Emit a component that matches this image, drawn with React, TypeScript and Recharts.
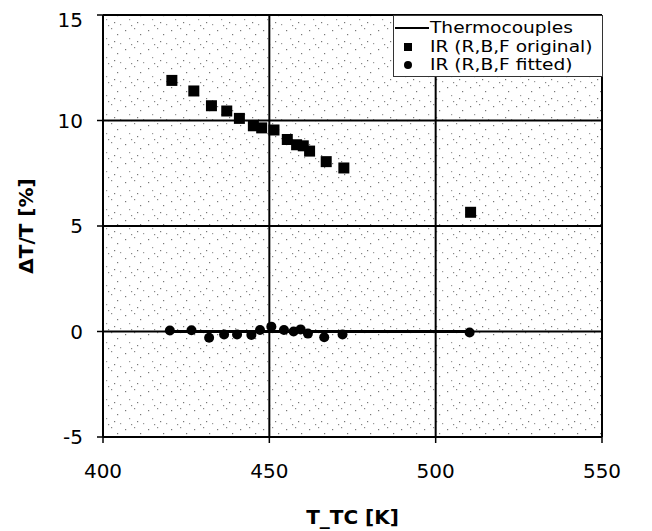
import React from "react";
import {
  ComposedChart,
  XAxis,
  YAxis,
  CartesianGrid,
  Scatter,
  Line,
} from "recharts";

const xTicks = [400, 450, 500, 550];
const yTicks = [-5, 0, 5, 10, 15];

const tcX = [420, 510];
const tcY = [0, 0];

const irOrigX = [420.7, 427.3, 432.6, 437.2, 441.0, 445.2, 447.7, 451.4, 455.4, 458.2, 460.2, 462.1, 467.1, 472.4, 510.5];
const irOrigY = [11.9, 11.4, 10.7, 10.45, 10.1, 9.75, 9.65, 9.55, 9.1, 8.85, 8.8, 8.55, 8.05, 7.75, 5.65];

const irFitX = [420.1, 426.6, 431.9, 436.4, 440.3, 444.6, 447.2, 450.6, 454.4, 457.3, 459.4, 461.6, 466.5, 472.0, 510.2];
const irFitY = [0.05, 0.06, -0.3, -0.14, -0.14, -0.16, 0.07, 0.23, 0.07, 0.0, 0.1, -0.1, -0.27, -0.14, -0.05];

const seriesNames = ["Thermocouples", "IR (R,B,F original)", "IR (R,B,F fitted)"];

const tcData = tcX.map((x, i) => ({ x, y: tcY[i] }));
const origData = irOrigX.map((x, i) => ({ x, y: irOrigY[i] }));
const fitData = irFitX.map((x, i) => ({ x, y: irFitY[i] }));

const FONT = "'DejaVu Sans', 'Liberation Sans', Arial, sans-serif";

const SquareShape = (props: any) => {
  const { cx, cy } = props;
  if (cx == null || cy == null) return null;
  return <rect x={cx - 5.5} y={cy - 5.5} width={11} height={11} fill="#000" />;
};

const CircleShape = (props: any) => {
  const { cx, cy } = props;
  if (cx == null || cy == null) return null;
  return <circle cx={cx} cy={cy} r={5} fill="#000" />;
};

const LegendBox = () => (
  <div
    style={{
      position: "absolute",
      left: 385,
      top: 7,
      border: "1px solid #333",
      background: "#fff",
      width: 210,
      height: 62,
      boxSizing: "border-box",
      fontFamily: FONT,
      fontSize: 15,
      lineHeight: "18.5px",
      paddingTop: 3,
      color: "#000",
    }}
  >
    {seriesNames.map((name, i) => (
      <div key={name} style={{ display: "flex", alignItems: "center", height: 18.5, whiteSpace: "nowrap" }}>
        <div style={{ width: 36, display: "flex", justifyContent: "center", alignItems: "center" }}>
          {i === 0 && <div style={{ width: 34, height: 2, background: "#000" }} />}
          {i === 1 && <div style={{ width: 8, height: 8, background: "#000", marginLeft: -8 }} />}
          {i === 2 && <div style={{ width: 8, height: 8, borderRadius: 4, background: "#000", marginLeft: -8 }} />}
        </div>
        <span style={{ display: "inline-block", transform: "scaleX(1.24)", transformOrigin: "left center" }}>{name}</span>
      </div>
    ))}
  </div>
);

const YLabel = (props: any) => {
  const { viewBox } = props;
  const cx = 18;
  const cy = viewBox.y + viewBox.height / 2;
  return (
    <text
      x={cx}
      y={cy}
      transform={`rotate(-90 ${cx} ${cy})`}
      textAnchor="middle"
      dominantBaseline="central"
      fontFamily={FONT}
      fontWeight="bold"
      fontSize={20}
      fill="#000"
    >
      ΔT/T [%]
    </text>
  );
};

const XLabel = (props: any) => {
  const { viewBox } = props;
  const cx = viewBox.x + viewBox.width / 2;
  return (
    <text
      x={cx}
      y={516}
      textAnchor="middle"
      fontFamily={FONT}
      fontWeight="bold"
      fontSize={20}
      fill="#000"
    >
      T_TC [K]
    </text>
  );
};

export default function App() {
  return (
    <div style={{ position: "relative", width: 644, height: 523 }}>
      <ComposedChart
        width={644}
        height={523}
        margin={{ top: 7, right: 50, bottom: 0, left: 0 }}
        style={{ fontFamily: FONT }}
      >
        <defs>
          <pattern id="stipple" x="0" y="0" width="23" height="19" patternUnits="userSpaceOnUse">
            <rect x="0" y="0" width="23" height="19" fill="#fff" />
            <rect x="2" y="3" width="1.2" height="1.2" fill="#777" />
            <rect x="11" y="1" width="1.2" height="1.2" fill="#888" />
            <rect x="17" y="7" width="1.2" height="1.2" fill="#777" />
            <rect x="6" y="11" width="1.2" height="1.2" fill="#999" />
            <rect x="14" y="14" width="1.2" height="1.2" fill="#777" />
            <rect x="20" y="16" width="1.2" height="1.2" fill="#999" />
            <rect x="8" y="17" width="1.2" height="1.2" fill="#888" />
          </pattern>
        </defs>
        <CartesianGrid
          stroke="#000"
          strokeWidth={2}
          fill="url(#stipple)"
          fillOpacity={1}
          horizontalValues={yTicks}
          verticalValues={xTicks}
        />
        <XAxis
          type="number"
          dataKey="x"
          domain={[400, 550]}
          ticks={xTicks}
          allowDataOverflow
          height={94}
          tickSize={6}
          tickMargin={21}
          tick={{ fontSize: 20, fill: "#000", fontFamily: FONT }}
          axisLine={{ stroke: "#000", strokeWidth: 2 }}
          tickLine={{ stroke: "#000", strokeWidth: 1.5 }}
          label={<XLabel />}
        />
        <YAxis
          type="number"
          dataKey="y"
          domain={[-5, 15]}
          ticks={yTicks}
          allowDataOverflow
          width={95}
          tickSize={6}
          tickMargin={14}
          tick={{ fontSize: 20, fill: "#000", fontFamily: FONT }}
          axisLine={{ stroke: "#000", strokeWidth: 2 }}
          tickLine={{ stroke: "#000", strokeWidth: 1.5 }}
          label={<YLabel />}
        />
        <Line
          data={tcData}
          dataKey="y"
          name={seriesNames[0]}
          stroke="#000"
          strokeWidth={3}
          dot={false}
          isAnimationActive={false}
        />
        <Scatter
          data={origData}
          dataKey="y"
          name={seriesNames[1]}
          shape={<SquareShape />}
          isAnimationActive={false}
        />
        <Scatter
          data={fitData}
          dataKey="y"
          name={seriesNames[2]}
          shape={<CircleShape />}
          isAnimationActive={false}
        />
      </ComposedChart>
      <LegendBox />
    </div>
  );
}
